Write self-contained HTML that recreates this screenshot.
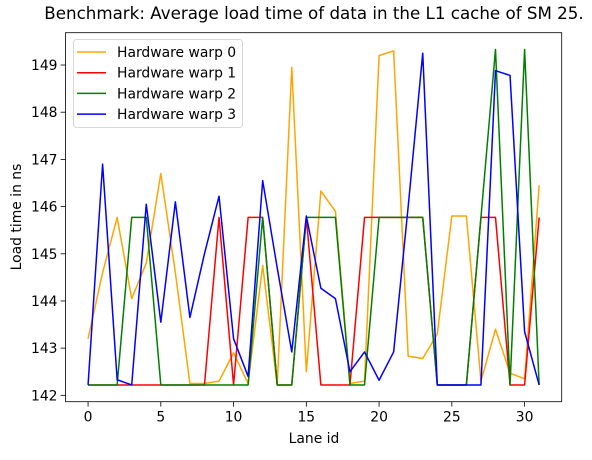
<!DOCTYPE html>
<html><head><meta charset="utf-8"><style>
body{margin:0;background:#fff;}
svg text{font-family:"DejaVu Sans","Liberation Sans",sans-serif;fill:#000;}
</style></head><body>
<svg width="592" height="455" viewBox="0 0 592 455" id="chart">
<text x="314" y="19" font-size="16.7" text-anchor="middle">Benchmark: Average load time of data in the L1 cache of SM 25.</text>
<g id="plot"></g>
<text x="314" y="443" font-size="13.9" text-anchor="middle">Lane id</text>
<text x="21" y="217" font-size="13.9" text-anchor="middle" transform="rotate(-90 21 217)">Load time in ns</text>
</svg>
<script>
const lanes=[...Array(32).keys()];
const xTicks=[0,5,10,15,20,25,30];
const yTicks=[142,143,144,145,146,147,148,149];
const seriesNames=["Hardware warp 0","Hardware warp 1","Hardware warp 2","Hardware warp 3"];
const seriesColors=["orange","red","green","blue"];
const warp0=[143.2,144.6,145.77,144.05,144.8,146.7,144.6,142.25,142.25,142.3,142.9,142.25,144.75,142.22,148.95,142.5,146.33,145.9,142.25,142.3,149.2,149.3,142.83,142.78,143.3,145.8,145.8,142.3,143.4,142.47,142.35,146.45];
const warp1=[142.22,142.22,142.22,142.22,142.22,142.22,142.22,142.22,142.22,145.77,142.22,145.77,145.77,142.22,142.22,145.77,142.22,142.22,142.22,145.77,145.77,145.77,145.77,145.77,142.22,142.22,142.22,145.77,145.77,142.22,142.22,145.77];
const warp2=[142.22,142.22,142.22,145.77,145.77,142.22,142.22,142.22,142.22,142.22,142.22,142.22,145.77,142.22,142.22,145.77,145.77,145.77,142.22,142.22,145.77,145.77,145.77,145.77,142.22,142.22,142.22,145.77,149.33,142.22,149.33,142.22];
const warp3=[142.22,146.9,142.33,142.22,146.05,143.55,146.1,143.65,145.0,146.22,143.2,142.4,146.55,144.7,142.92,145.8,144.27,144.05,142.5,142.92,142.32,142.92,146.0,149.25,142.22,142.22,142.22,142.22,148.88,148.78,143.35,142.22];
const series=[warp0,warp1,warp2,warp3];
const L=65.5,R=561.7,T=32.7,B=401.7;
const xMin=-1.55,xMax=32.55,yMin=141.865,yMax=149.685;
const sx=v=>L+(v-xMin)/(xMax-xMin)*(R-L);
const sy=v=>B-(v-yMin)/(yMax-yMin)*(B-T);
const NS="http://www.w3.org/2000/svg";
const g=document.getElementById('plot');
function mk(t,a){const e=document.createElementNS(NS,t);for(const k in a)e.setAttribute(k,a[k]);g.appendChild(e);return e;}
series.forEach((s,i)=>{
  const p=mk('polyline',{points:s.map((v,j)=>sx(lanes[j])+','+sy(v)).join(' '),fill:'none',stroke:seriesColors[i],'stroke-width':1.5,'stroke-linejoin':'round'});
  
  
});
const fr=mk('rect',{x:L,y:T,width:R-L,height:B-T,fill:'none',stroke:'#000','stroke-width':0.8});


xTicks.forEach(v=>{
  const x=sx(v);
  const l=mk('line',{x1:x,x2:x,y1:B,y2:B+4.9,stroke:'#000','stroke-width':0.8});
  
  
  const t=mk('text',{x:x,y:B+20,'font-size':13.9,'text-anchor':'middle'});t.textContent=v;
  
  
});
yTicks.forEach(v=>{
  const y=sy(v);
  const l=mk('line',{x1:L-4.9,x2:L,y1:y,y2:y,stroke:'#000','stroke-width':0.8});
  
  
  const t=mk('text',{x:L-8,y:y+5,'font-size':13.9,'text-anchor':'end'});t.textContent=v;
  
  
});
const lg=mk('rect',{x:73.5,y:39.5,width:169,height:88,rx:3,fill:'#fff','fill-opacity':0.8,stroke:'#ccc','stroke-width':0.8});


seriesNames.forEach((n,i)=>{
  const y=52+i*20.7;
  const l=mk('line',{x1:77,x2:106,y1:y,y2:y,stroke:seriesColors[i],'stroke-width':1.5});
  
  
  const t=mk('text',{x:117,y:y+5,'font-size':13.9});t.textContent=n;
  
  
});
</script>
</body></html>
